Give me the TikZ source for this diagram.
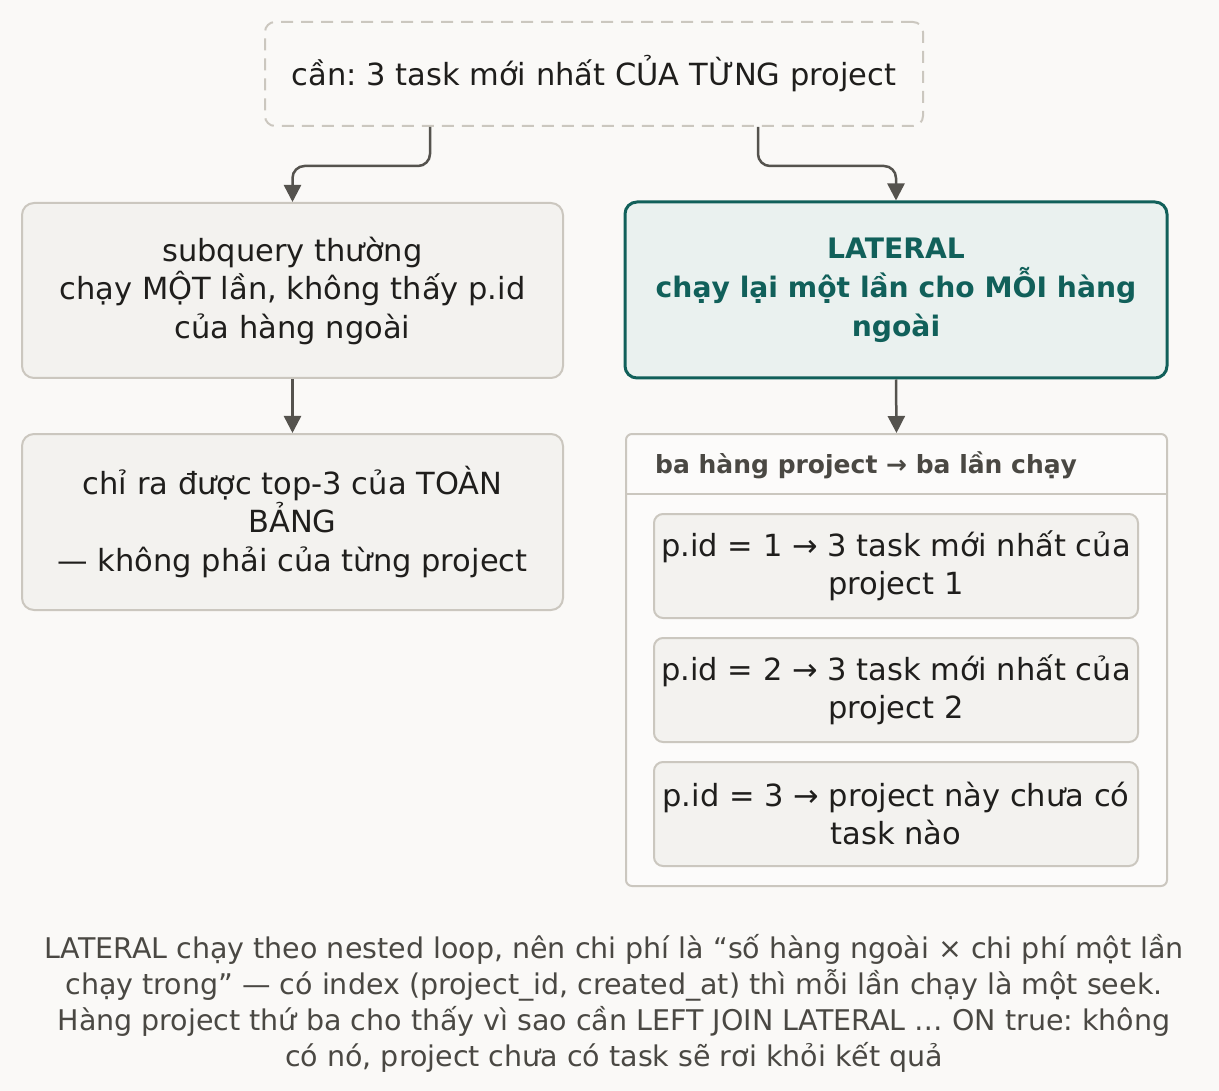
\documentclass[tikz,border=0pt]{standalone}
\usepackage{fontspec}
\setmainfont{DejaVu Sans}[BoldFont={DejaVu Sans Bold}]
\frenchspacing
\usetikzlibrary{arrows.meta,positioning}
\definecolor{bg}{HTML}{FAF9F7}
\definecolor{boxfill}{HTML}{F3F2EF}
\definecolor{boxline}{HTML}{CBC7BF}
\definecolor{ink}{HTML}{1F1E1C}
\definecolor{teal}{HTML}{11605A}
\definecolor{tealfill}{HTML}{EAF1EF}
\definecolor{arrowc}{HTML}{55534E}
\definecolor{capc}{HTML}{4A4843}
\definecolor{contfill}{HTML}{FCFBFA}
\tikzset{
  plainbox/.style={draw=boxline, line width=2pt, fill=boxfill, rounded corners=12pt, text=ink, align=center, inner sep=0pt,
    font=\fontsize{30.5}{38.5}\selectfont},
  hlbox/.style={draw=teal, line width=3pt, fill=tealfill, rounded corners=12pt, text=teal, align=center, inner sep=0pt,
    font=\fontsize{28.2}{39}\selectfont\bfseries},
  needbox/.style={draw=boxline, line width=2pt, dash pattern=on 12pt off 8pt, fill=bg, rounded corners=10pt, text=ink, inner sep=0pt,
    font=\fontsize{30.5}{38}\selectfont},
  contbox/.style={draw=boxline, line width=2pt, fill=contfill, rounded corners=6pt, inner sep=0pt},
  runbox/.style={draw=boxline, line width=2pt, fill=boxfill, rounded corners=9pt, text=ink, align=center, inner sep=0pt,
    font=\fontsize{30.5}{38}\selectfont},
  arr/.style={draw=arrowc, line width=2.5pt, -{Triangle[length=17pt,width=17pt]}},
}
\begin{document}
\begin{tikzpicture}[x=1pt,y=-1pt]
\fill[bg] (0,0) rectangle (1219,1091);
\useasboundingbox (0,0) rectangle (1219,1091);

\node[needbox, minimum width=658pt, minimum height=104pt] (top) at (594,74) {cần: 3 task mới nhất CỦA TỪNG project};

\node[plainbox, minimum width=541pt, minimum height=175pt] (l1) at (292.5,290.5)
  {subquery thường\\chạy MỘT lần, không thấy p.id\\của hàng ngoài};
\node[hlbox, minimum width=542pt, minimum height=176pt] (r1) at (896,290)
  {LATERAL\\chạy lại một lần cho MỖI hàng\\ngoài};
\node[plainbox, minimum width=541pt, minimum height=176pt] (l2) at (292.5,522)
  {chỉ ra được top-3 của TOÀN\\BẢNG\\— không phải của từng project};

\node[contbox, minimum width=541pt, minimum height=452pt] (cont) at (896.5,660) {};
\node[anchor=west, text=capc, font=\fontsize{25}{30}\selectfont\bfseries, inner sep=0pt] (hdr) at (655,465)
  {ba hàng project → ba lần chạy};
\coordinate (sepw) at (626,494);
\coordinate (sepe) at (1167,494);
\draw[boxline, line width=2pt] (sepw) -- (sepe);

\node[runbox, minimum width=484pt, minimum height=104pt] (p1) at (896,566)
  {p.id = 1 → 3 task mới nhất của\\project 1};
\node[runbox, minimum width=484pt, minimum height=104pt] (p2) at (896,690)
  {p.id = 2 → 3 task mới nhất của\\project 2};
\node[runbox, minimum width=484pt, minimum height=104pt] (p3) at (896,814)
  {p.id = 3 → project này chưa có\\task nào};

\draw[arr, rounded corners=12pt] ([xshift=-164pt]top.south) -- ++(0,39) -| (l1.north);
\draw[arr, rounded corners=12pt] ([xshift=164pt]top.south) -- ++(0,39) -| (r1.north);
\draw[arr] (l1.south) -- (l2.north);
\draw[arr] (r1.south) -- (cont.north);

\node[text=capc, align=center, font=\fontsize{28.5}{36}\selectfont, inner sep=0pt] (cap) at (614,1003)
  {LATERAL chạy theo nested loop, nên chi phí là “số hàng ngoài × chi phí một lần\\
   chạy trong” — có index (project\_id, created\_at) thì mỗi lần chạy là một seek.\\
   Hàng project thứ ba cho thấy vì sao cần LEFT JOIN LATERAL … ON true: không\\
   có nó, project chưa có task sẽ rơi khỏi kết quả};
\end{tikzpicture}
\end{document}
